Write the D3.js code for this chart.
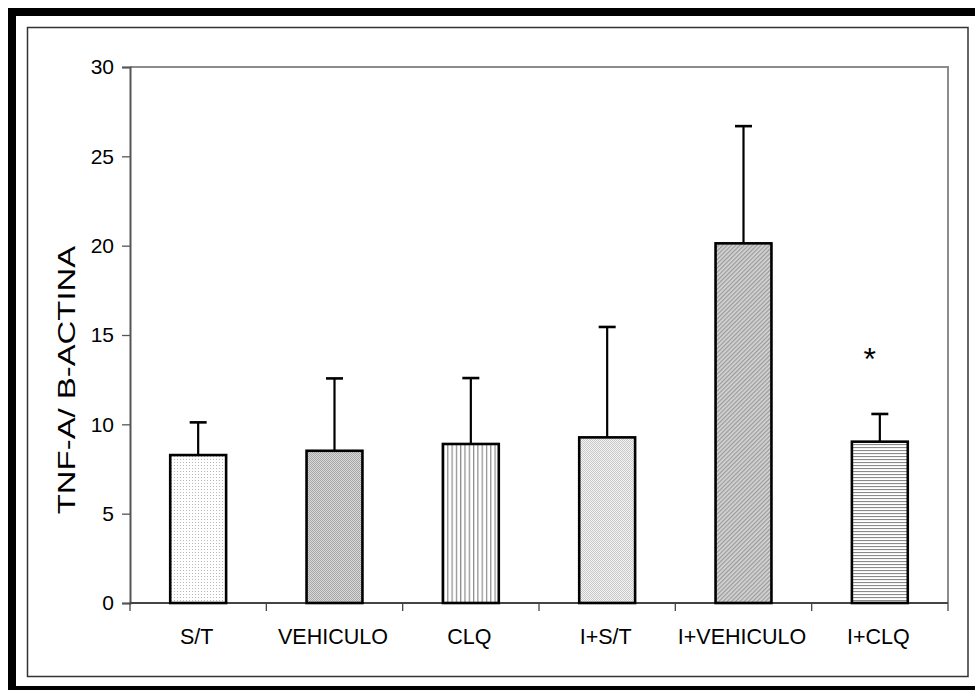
<html><head><title>TNF-A / B-ACTINA</title>
<meta charset="UTF-8">
<script src="https://cdn.jsdelivr.net/npm/d3@7"></script>
<style>
  body { margin: 0; background: #fff; }
  text { font-family: "Liberation Sans", Arial, sans-serif; fill: #000; }
</style>
</head>
<body>
<div id="chart"></div>
<script>
  // data
  const categories = ["S/T", "VEHICULO", "CLQ", "I+S/T", "I+VEHICULO", "I+CLQ"];
  const means = [8.28, 8.52, 8.90, 9.27, 20.13, 9.03];
  const errTops = [10.11, 12.57, 12.59, 15.45, 26.69, 10.58];
  const fills = ["dots", "grayDots", "vlines", "lightCheck", "diag", "hlines"];
  const yTicks = [0, 5, 10, 15, 20, 25, 30];
  const starred = [{ cat: "I+CLQ", value: 13.9 }];

  const width = 975, height = 690;
  const svg = d3.select("#chart").append("svg")
    .attr("width", width).attr("height", height);

  // patterns
  const defs = svg.append("defs");
  function pat(id, w, h) {
    return defs.append("pattern").attr("id", id)
      .attr("patternUnits", "userSpaceOnUse").attr("width", w).attr("height", h);
  }
  let p = pat("dots", 3, 3);
  p.append("rect").attr("width", 3).attr("height", 3).attr("fill", "#fff");
  p.append("rect").attr("width", 1).attr("height", 1).attr("fill", "#b8b8b8");

  p = pat("grayDots", 2, 2);
  p.append("rect").attr("width", 2).attr("height", 2).attr("fill", "#d8d8d8");
  p.append("rect").attr("width", 1).attr("height", 1).attr("fill", "#a8a8a8");
  p.append("rect").attr("x", 1).attr("y", 1).attr("width", 1).attr("height", 1).attr("fill", "#a8a8a8");

  p = pat("vlines", 4.3, 4);
  p.append("rect").attr("width", 4.3).attr("height", 4).attr("fill", "#fff");
  p.append("rect").attr("width", 1.2).attr("height", 4).attr("fill", "#8a8a8a");

  p = pat("lightCheck", 2, 2);
  p.append("rect").attr("width", 2).attr("height", 2).attr("fill", "#f4f4f4");
  p.append("rect").attr("width", 1).attr("height", 1).attr("fill", "#c8c8c8");
  p.append("rect").attr("x", 1).attr("y", 1).attr("width", 1).attr("height", 1).attr("fill", "#c8c8c8");

  p = pat("diag", 3, 3).attr("patternTransform", "rotate(45)");
  p.append("rect").attr("width", 3).attr("height", 3).attr("fill", "#d4d4d4");
  p.append("rect").attr("width", 1.2).attr("height", 3).attr("fill", "#9a9a9a");

  p = pat("hlines", 4, 3);
  p.append("rect").attr("width", 4).attr("height", 3).attr("fill", "#fff");
  p.append("rect").attr("width", 4).attr("height", 1.1).attr("fill", "#8a8a8a");

  // outer frames
  svg.append("rect").attr("x", 12).attr("y", 12).attr("width", 970).attr("height", 678)
    .attr("fill", "none").attr("stroke", "#000").attr("stroke-width", 8);
  svg.append("rect").attr("x", 27.5).attr("y", 27.5).attr("width", 940.5).attr("height", 649)
    .attr("fill", "none").attr("stroke", "#333").attr("stroke-width", 1.5);

  const margin = { left: 130, top: 67, right: 27, bottom: 87 };
  const x = d3.scaleBand().domain(categories)
    .range([margin.left, width - margin.right]).paddingInner(0.59).paddingOuter(0.295);
  const xb = d3.scaleBand().domain(categories).range([margin.left, width - margin.right]);
  const y = d3.scaleLinear().domain([0, 30]).range([height - margin.bottom, margin.top]);

  // plot area top/right border
  svg.append("path")
    .attr("d", `M${margin.left},${y(30)}H${width - margin.right}V${y(0)}`)
    .attr("fill", "none").attr("stroke", "#8c8c8c").attr("stroke-width", 2);

  // y axis
  const yAxis = svg.append("g").attr("transform", `translate(${margin.left},0)`)
    .call(d3.axisLeft(y).tickValues(yTicks).tickSize(8).tickPadding(8));
  yAxis.select(".domain").attr("stroke", "#555").attr("stroke-width", 2);
  yAxis.selectAll(".tick line").attr("stroke", "#555").attr("stroke-width", 1.3);
  yAxis.selectAll(".tick text").attr("font-size", 21)
    .attr("font-family", "Liberation Sans, Arial, sans-serif");

  // x axis with ticks at category boundaries
  const xg = svg.append("g");
  xg.append("line").attr("x1", margin.left).attr("x2", width - margin.right)
    .attr("y1", y(0)).attr("y2", y(0)).attr("stroke", "#444").attr("stroke-width", 2);
  const bounds = categories.map(c => xb(c)).concat([xb.range()[1]]);
  xg.selectAll(".xt").data(bounds).join("line")
    .attr("x1", d => d).attr("x2", d => d)
    .attr("y1", y(0)).attr("y2", y(0) + 8)
    .attr("stroke", "#444").attr("stroke-width", 1.3);
  xg.selectAll(".xl").data(categories).join("text")
    .attr("text-anchor", "middle").attr("font-size", 21.5)
    .attr("x", d => x(d) + x.bandwidth() / 2 - 1.5).attr("y", y(0) + 41)
    .text(d => d);

  // y title
  svg.append("text")
    .attr("transform", `translate(75,380) rotate(-90) scale(1.43,1)`)
    .attr("text-anchor", "middle").attr("font-size", 23)
    .text("TNF-A/ B-ACTINA");

  // error bars
  const cx = c => x(c) + x.bandwidth() / 2;
  const eb = svg.append("g").attr("stroke", "#000").attr("stroke-width", 2.2);
  categories.forEach((c, i) => {
    eb.append("line").attr("x1", cx(c)).attr("x2", cx(c)).attr("y1", y(means[i])).attr("y2", y(errTops[i]));
    eb.append("line").attr("x1", cx(c) - 8.5).attr("x2", cx(c) + 8.5).attr("y1", y(errTops[i])).attr("y2", y(errTops[i])).attr("stroke-width", 2.6);
  });

  // bars
  svg.append("g").selectAll("rect").data(categories).join("rect")
    .attr("x", d => x(d)).attr("width", x.bandwidth())
    .attr("y", (d, i) => y(means[i])).attr("height", (d, i) => y(0) - y(means[i]))
    .attr("fill", (d, i) => `url(#${fills[i]})`)
    .attr("stroke", "#000").attr("stroke-width", 2.6);

  // significance mark
  svg.append("g").selectAll("text").data(starred).join("text")
    .attr("x", d => cx(d.cat) - 10).attr("y", d => y(d.value) + 15)
    .attr("text-anchor", "middle").attr("font-size", 32)
    .attr("font-family", "Liberation Serif, serif")
    .text("*");
</script>
</body>
</html>
